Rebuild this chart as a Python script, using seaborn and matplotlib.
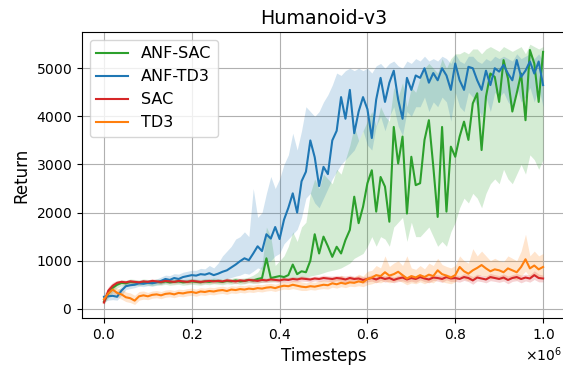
import numpy as np
import pandas as pd
import seaborn as sns
import matplotlib
matplotlib.use("Agg")
import matplotlib.pyplot as plt

plt.rcParams['axes.formatter.use_mathtext'] = True

# timesteps, every 10k steps up to 1M
timesteps = np.arange(0, 1000001, 10000)

algos = ['ANF-SAC', 'ANF-TD3', 'SAC', 'TD3']
colors = ['#2ca02c', '#1f77b4', '#d62728', '#ff7f0e']

anf_sac = [150, 320, 440, 500, 540, 530, 560, 550, 540, 560,
           550, 540, 560, 550, 570, 550, 560, 570, 550, 560,
           570, 560, 550, 570, 560, 580, 570, 560, 580, 570,
           590, 570, 580, 600, 590, 620, 640, 1050, 640, 660,
           680, 660, 700, 920, 720, 780, 760, 1000, 1550, 1150,
           1500, 1300, 1080, 1290, 1150, 1430, 1640, 2330, 1780, 2120,
           2610, 2880, 2020, 2740, 2540, 1810, 3780, 3020, 3580, 1980,
           3160, 2570, 2610, 3510, 3920, 2960, 1910, 3780, 2020, 3370,
           3160, 3580, 3890, 3510, 4270, 4480, 3300, 4410, 4890, 4820,
           4300, 5170, 4790, 4100, 4480, 4890, 3920, 5380, 5100, 4300,
           5340]
anf_sac_lo = [100, 230, 360, 430, 480, 470, 500, 490, 480, 500,
              490, 480, 500, 490, 510, 490, 500, 510, 490, 500,
              510, 500, 490, 510, 500, 520, 510, 500, 520, 510,
              530, 510, 520, 540, 530, 540, 550, 560, 560, 570,
              580, 580, 600, 620, 620, 640, 650, 680, 700, 720,
              750, 780, 800, 820, 850, 900, 950, 1050, 1100, 1150,
              1300, 1500, 1300, 1500, 1450, 1300, 1700, 1800, 1900, 1400,
              1800, 1500, 1500, 1600, 1700, 1500, 1300, 1400, 1300, 1600,
              1800, 2100, 2300, 2200, 2400, 2300, 2100, 2400, 2600, 2700,
              2600, 2900, 2700, 2600, 2800, 3000, 2800, 3200, 3100, 2900,
              3100]
anf_sac_hi = [200, 400, 510, 570, 600, 590, 620, 610, 600, 620,
              610, 600, 620, 610, 630, 610, 620, 630, 610, 620,
              630, 620, 610, 630, 620, 640, 630, 620, 640, 630,
              650, 630, 640, 660, 700, 760, 900, 1700, 1500, 900,
              1000, 1100, 1300, 1600, 1400, 1700, 1800, 2400, 2700, 2500,
              2800, 2700, 2600, 2900, 2800, 3100, 3400, 3800, 3500, 3700,
              3900, 4100, 3800, 4200, 4000, 3900, 4600, 4400, 4700, 4200,
              4600, 4500, 4800, 5000, 5100, 5000, 4900, 5200, 5000, 5200,
              5300, 5300, 5350, 5300, 5400, 5400, 5300, 5400, 5450, 5400,
              5350, 5450, 5400, 5350, 5400, 5450, 5300, 5500, 5450, 5400,
              5450]

anf_td3 = [250, 260, 270, 250, 380, 470, 490, 500, 530, 520,
           540, 530, 550, 580, 620, 600, 640, 620, 660, 680,
           700, 690, 720, 710, 740, 700, 730, 770, 800, 860,
           920, 990, 1050, 1010, 1150, 1300, 1200, 1550, 1460, 1700,
           1450, 1850, 2100, 2400, 2000, 2650, 2850, 3500, 3150, 2550,
           2950, 2800, 3500, 3700, 4400, 3950, 4550, 3650, 4100, 4400,
           4150, 3550, 4350, 4800, 4300, 4700, 4950, 4350, 3950, 4800,
           4550, 4850, 4800, 5000, 4700, 4900, 4750, 5000, 4850, 4550,
           5100, 4750, 4550, 5030, 5000, 4750, 4550, 4950, 4650, 5000,
           4930, 5070, 4890, 4750, 5170, 4820, 4950, 5140, 4890, 5140,
           4650]
anf_td3_lo = [150, 180, 190, 180, 280, 400, 420, 440, 470, 460,
              480, 470, 490, 510, 540, 530, 560, 540, 570, 590,
              600, 590, 610, 600, 620, 590, 600, 620, 630, 650,
              680, 700, 740, 720, 780, 850, 820, 950, 1000, 1100,
              1150, 1350, 1450, 1550, 1650, 1900, 2300, 2400, 2200, 2100,
              2300, 2500, 2700, 2850, 3000, 3100, 3200, 3300, 3500, 3700,
              3400, 3300, 3800, 4000, 3700, 4000, 4200, 3800, 3600, 4100,
              4000, 4200, 4200, 4400, 4100, 4300, 4200, 4400, 4300, 3900,
              4500, 4200, 4100, 4500, 4400, 4200, 4000, 4400, 4100, 4500,
              4400, 4500, 4300, 4200, 4600, 4300, 4400, 4600, 4300, 4600,
              4200]
anf_td3_hi = [350, 340, 380, 380, 470, 540, 560, 570, 590, 580,
              610, 600, 620, 660, 700, 690, 730, 720, 760, 780,
              800, 800, 840, 830, 900, 850, 950, 1100, 1200, 1300,
              1450, 1500, 1600, 1500, 2500, 1900, 2000, 2400, 2750, 2500,
              2700, 3000, 3200, 3650, 3300, 3700, 4200, 4100, 4000, 4100,
              4300, 4450, 4650, 4900, 4850, 4950, 5000, 4950, 5000, 4950,
              5000, 4900, 5050, 5100, 5000, 5100, 5150, 5050, 5000, 5150,
              5100, 5200, 5150, 5250, 5150, 5200, 5150, 5250, 5200, 5100,
              5300, 5150, 5100, 5250, 5250, 5150, 5100, 5200, 5150, 5250,
              5200, 5250, 5200, 5150, 5300, 5200, 5250, 5300, 5200, 5300,
              5150]

sac = [130, 380, 480, 540, 560, 550, 570, 560, 550, 570,
       560, 580, 570, 560, 580, 570, 560, 580, 570, 560,
       580, 570, 560, 570, 580, 570, 580, 570, 590, 580,
       570, 590, 580, 600, 590, 580, 600, 590, 610, 600,
       590, 610, 600, 620, 610, 630, 620, 610, 630, 620,
       640, 630, 620, 640, 630, 610, 640, 620, 630, 600,
       620, 640, 610, 650, 620, 640, 600, 630, 650, 610,
       640, 620, 660, 630, 610, 650, 640, 620, 660, 630,
       640, 620, 660, 640, 590, 650, 630, 610, 660, 640,
       620, 650, 600, 640, 660, 620, 650, 630, 700, 640,
       630]
sac_sd = [50, 80, 70, 50, 40, 40, 40, 40, 40, 40,
          40, 45, 40, 45, 40, 45, 40, 45, 40, 45,
          45, 40, 45, 40, 45, 40, 45, 40, 45, 40,
          50, 45, 50, 45, 50, 45, 50, 45, 50, 45,
          50, 55, 50, 55, 50, 55, 50, 55, 50, 55,
          60, 55, 60, 55, 60, 70, 60, 55, 60, 70,
          60, 65, 70, 60, 65, 70, 60, 65, 70, 60,
          65, 70, 60, 65, 70, 60, 65, 70, 60, 65,
          70, 65, 70, 75, 80, 70, 65, 70, 75, 70,
          70, 75, 80, 70, 75, 80, 70, 75, 90, 80,
          70]

td3 = [200, 320, 400, 330, 300, 240, 220, 170, 260, 280,
       260, 290, 300, 280, 310, 320, 300, 330, 320, 340,
       350, 330, 360, 350, 370, 360, 380, 390, 370, 400,
       390, 410, 400, 420, 410, 430, 420, 440, 450, 430,
       460, 480, 470, 500, 480, 460, 450, 470, 460, 480,
       500, 490, 530, 510, 540, 520, 550, 540, 570, 550,
       620, 650, 700, 680, 760, 690, 720, 770, 700, 630,
       680, 650, 700, 660, 710, 680, 800, 720, 690, 650,
       700, 870, 780, 730, 800, 850, 910, 840, 780, 820,
       800, 760, 840, 800, 760, 870, 1030, 840, 900, 820,
       870]
td3_lo = [150, 250, 320, 250, 200, 150, 130, 90, 180, 200,
          190, 220, 230, 210, 240, 250, 230, 260, 250, 270,
          280, 260, 290, 280, 300, 290, 310, 320, 300, 330,
          320, 340, 330, 350, 340, 360, 350, 370, 380, 360,
          390, 410, 400, 420, 400, 380, 380, 400, 390, 410,
          420, 410, 450, 430, 460, 440, 470, 460, 480, 460,
          500, 520, 550, 540, 580, 540, 560, 590, 550, 500,
          540, 520, 560, 520, 560, 540, 620, 560, 540, 520,
          560, 680, 620, 580, 630, 670, 700, 660, 620, 650,
          630, 600, 660, 630, 600, 680, 780, 660, 700, 640,
          680]
td3_hi = [250, 400, 480, 420, 420, 350, 330, 280, 360, 370,
          340, 370, 380, 360, 390, 400, 380, 410, 400, 420,
          430, 410, 440, 430, 450, 440, 460, 470, 450, 480,
          470, 490, 480, 500, 490, 510, 500, 520, 530, 510,
          540, 560, 550, 590, 580, 560, 540, 560, 550, 580,
          600, 590, 640, 620, 700, 640, 680, 660, 720, 680,
          780, 800, 900, 850, 1100, 880, 950, 1000, 900, 1100,
          850, 820, 900, 830, 950, 900, 1050, 920, 880, 850,
          900, 1100, 1000, 950, 1250, 1100, 1200, 1100, 1000, 1050,
          1000, 980, 1100, 1050, 1000, 1200, 1550, 1100, 1200, 1100,
          1150]

means = [anf_sac, anf_td3, sac, td3]
lows = [anf_sac_lo, anf_td3_lo, np.array(sac) - np.array(sac_sd), td3_lo]
highs = [anf_sac_hi, anf_td3_hi, np.array(sac) + np.array(sac_sd), td3_hi]

df = pd.concat([pd.DataFrame({'Timesteps': timesteps, 'Return': m, 'algo': a})
                for a, m in zip(algos, means)], ignore_index=True)

fig = plt.figure(figsize=(5.63, 3.68), dpi=100)
ax = fig.add_axes([0.1456, 0.136, 0.858, 0.777])

for lo, hi, c in zip(lows, highs, colors):
    ax.fill_between(timesteps, lo, hi, color=c, alpha=0.2, linewidth=0)

sns.lineplot(data=df, x='Timesteps', y='Return', hue='algo', hue_order=algos,
             palette=colors, linewidth=1.5, errorbar=None, ax=ax)

ax.set_xlim(-50000, 1050000)
ax.set_ylim(-190, 5753)
ax.set_yticks([0, 1000, 2000, 3000, 4000, 5000])
ax.grid(True, color='#b0b0b0', linewidth=0.8)
ax.set_axisbelow(True)
ax.spines['right'].set_visible(False)
ax.tick_params(labelsize=10)
ax.set_xlabel('Timesteps', fontsize=12)
ax.set_ylabel('Return', fontsize=12)
ax.set_title('Humanoid-v3', fontsize=13.7)
ax.xaxis.get_offset_text().set_fontsize(10)
ax.xaxis.get_offset_text().set_x(0.994)

handles, labels = ax.get_legend_handles_labels()
ax.legend(handles, labels, loc='upper left', fontsize=11.5)

fig.savefig('out.png', dpi=100)
